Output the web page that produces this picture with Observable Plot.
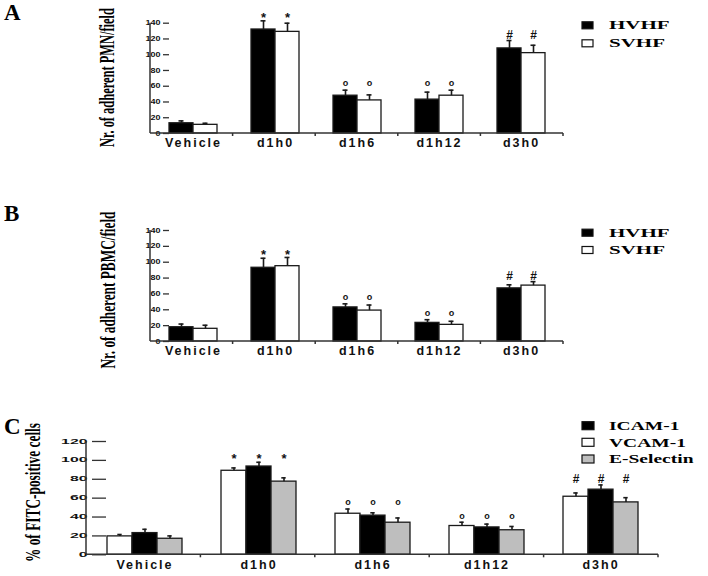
<!DOCTYPE html>
<html><head><meta charset="utf-8">
<script src="https://cdn.jsdelivr.net/npm/d3@7"></script>
<script src="https://cdn.jsdelivr.net/npm/@observablehq/plot@0.6"></script>
<style>
body{margin:0;background:#fff;}
#wrap{position:relative;width:708px;height:576px;overflow:hidden;background:#fff;}
#wrap > svg{position:absolute;left:0;}
g[aria-label="fx-axis tick label"] text{letter-spacing:2px;}
g[aria-label="y-axis tick"] path{stroke:#333;stroke-width:1.3;}
</style></head><body><div id="wrap"></div>
<script>
// ---------- data ----------
const categories = ["Vehicle", "d1h0", "d1h6", "d1h12", "d3h0"];
const signif = ["", "*", "o", "o", "#"];

// Panel A: adherent PMN per field
const seriesAB = ["HVHF", "SVHF"];
const pmnHVHF    = [13, 132, 48, 43, 108];
const pmnHVHFErr = [3, 11, 7, 9.5, 10];
const pmnSVHF    = [11, 129, 42, 48, 102];
const pmnSVHFErr = [2, 11, 7, 7, 10];

// Panel B: adherent PBMC per field
const pbmcHVHF    = [18, 93, 43, 23.5, 67];
const pbmcHVHFErr = [4, 12, 4.5, 4, 4.5];
const pbmcSVHF    = [16, 95, 39, 21, 70.5];
const pbmcSVHFErr = [4.5, 11, 7, 4.5, 5];

// Panel C: % FITC-positive cells (bar order: white, black, grey)
const seriesC = ["VCAM-1", "ICAM-1", "E-Selectin"];
const vcam    = [19.5, 89, 43.5, 30.5, 61.5];
const vcamErr = [2, 3, 5, 4, 4];
const icam    = [23, 93.5, 41.5, 29, 69];
const icamErr = [4, 4.5, 3, 3.5, 5];
const esel    = [17, 77.5, 34, 26, 55.5];
const eselErr = [3, 4, 5, 4, 5];

const legendAB = ["HVHF", "SVHF"];
const legendC = ["ICAM-1", "VCAM-1", "E-Selectin"];
const ticksAB = [0, 20, 40, 60, 80, 100, 120, 140];
const ticksC = [0, 20, 40, 60, 80, 100, 120];

// ---------- styles ----------
const SANS = "'Liberation Sans', Arial, Helvetica, sans-serif";
const SERIF = "'Liberation Serif', 'Times New Roman', serif";
const colorOf = {"HVHF": "#000000", "SVHF": "#ffffff", "ICAM-1": "#000000", "VCAM-1": "#ffffff", "E-Selectin": "#bebebe"};

const wrap = document.getElementById("wrap");

function buildRows(series, values, errs) {
  const rows = [];
  categories.forEach((cat, i) => {
    series.forEach((s, j) => {
      rows.push({cat, series: s, value: values[j][i], top: values[j][i] + errs[j][i], sig: signif[i]});
    });
  });
  return rows;
}
function buildAnn(rows) {
  const out = [];
  for (const [cat, rs] of d3.group(rows, d => d.cat)) {
    const ymax = d3.max(rs, d => d.top);
    for (const r of rs) if (r.sig) out.push({cat, series: r.series, y: ymax, sig: r.sig});
  }
  return out;
}

function makePanel(cfg) {
  const rows = buildRows(cfg.series, cfg.values, cfg.errs);
  const ann = buildAnn(rows);
  const symbol = (s, fontSize, dy) => Plot.text(ann.filter(d => d.sig === s), {
    fx: "cat", x: "series", y: "y", text: "sig", fontSize, fontWeight: "bold", fontFamily: SANS, dy, fill: "#111"
  });
  const plot = Plot.plot({
    width: 708, height: cfg.height,
    marginTop: cfg.marginTop, marginBottom: cfg.marginBottom,
    marginLeft: cfg.marginLeft, marginRight: cfg.marginRight,
    style: {background: "transparent", fontFamily: SANS, color: "#111"},
    fx: {domain: categories, paddingInner: cfg.pad, paddingOuter: cfg.pad / 2, label: null},
    x: {domain: cfg.series, padding: 0, axis: null},
    y: {domain: [0, cfg.yMax], label: null},
    color: {domain: cfg.series, range: cfg.series.map(s => colorOf[s])},
    marks: [
      Plot.barY(rows, {fx: "cat", x: "series", y: "value", fill: "series", stroke: "#1a1a1a", strokeWidth: 1.3}),
      Plot.ruleX(rows, {fx: "cat", x: "series", y1: "value", y2: "top", stroke: "#1a1a1a", strokeWidth: 1.6}),
      Plot.tickY(rows, {fx: "cat", x: "series", y: "top", stroke: "#1a1a1a", strokeWidth: 1.6,
        insetLeft: cfg.capInset, insetRight: cfg.capInset}),
      symbol("*", 13, -3),
      symbol("o", 9, -6.6),
      symbol("#", 12, -5.6),
      Plot.axisY({ticks: cfg.ticks, tickSize: cfg.tickSize, tickPadding: cfg.tickPadding,
        fontSize: 6.5, fontWeight: "bold", label: null}),
      Plot.axisFx({anchor: "bottom", tickSize: 0, tickPadding: 5, fontSize: 12.5, fontWeight: "bold", label: null})
    ]
  });
  plot.style.top = cfg.top + "px";
  wrap.appendChild(plot);

  // axis lines and separator ticks, positioned through the plot's own scales
  const svg = d3.select(plot);
  const sy = plot.scale("y"), sfx = plot.scale("fx");
  const [x0, x1] = sfx.range;
  const y0 = sy.apply(0), yTop = sy.apply(cfg.yMax);
  const g = svg.append("g").attr("stroke", "#333").attr("stroke-width", 1.5);
  g.append("line").attr("x1", x0).attr("x2", x1).attr("y1", y0).attr("y2", y0);
  g.append("line").attr("x1", x0).attr("x2", x0).attr("y1", y0).attr("y2", yTop);
  const step = (x1 - x0) / categories.length;
  d3.range(1, categories.length + 1).forEach(i => {
    g.append("line").attr("x1", x0 + i * step).attr("x2", x0 + i * step).attr("y1", y0).attr("y2", y0 + 3);
  });
  // horizontally stretched tick labels as in the reference
  svg.selectAll('g[aria-label="y-axis tick label"] text').each(function () {
    const t = this.textContent;
    this.setAttribute("textLength", t.length * cfg.digitW);
    this.setAttribute("lengthAdjust", "spacingAndGlyphs");
  });
}

makePanel({top: 0, height: 155, marginTop: 22.7, marginBottom: 22, marginLeft: 150, marginRight: 145,
  series: seriesAB, values: [pmnHVHF, pmnSVHF], errs: [pmnHVHFErr, pmnSVHFErr],
  yMax: 140, ticks: ticksAB, pad: 0.42, capInset: 9.5, tickSize: 6, tickPadding: 3, digitW: 5});
makePanel({top: 207, height: 156, marginTop: 23, marginBottom: 22, marginLeft: 150, marginRight: 145,
  series: seriesAB, values: [pbmcHVHF, pbmcSVHF], errs: [pbmcHVHFErr, pbmcSVHFErr],
  yMax: 140, ticks: ticksAB, pad: 0.42, capInset: 9.5, tickSize: 6, tickPadding: 3, digitW: 5});
makePanel({top: 418, height: 158, marginTop: 23, marginBottom: 21.7, marginLeft: 86, marginRight: 50,
  series: seriesC, values: [vcam, icam, esel], errs: [vcamErr, icamErr, eselErr],
  yMax: 120, ticks: ticksC, pad: 0.327, capInset: 10.3, tickSize: 14, tickPadding: 5, digitW: 8.8});

// ---------- panel letters, y-axis titles, legends ----------
const deco = d3.select(wrap).append("svg").attr("width", 708).attr("height", 576)
  .style("top", "0px").style("pointer-events", "none");

[["A", 20], ["B", 221], ["C", 434]].forEach(([t, y]) => {
  deco.append("text").attr("x", 4).attr("y", y).attr("font-family", SERIF).attr("font-weight", "bold")
    .attr("font-size", 23).attr("fill", "#000").text(t);
});

// condensed rotated axis titles: scale the glyph run along the text direction
[["Nr. of adherent PMN/field", 114, 77.5, 139],
 ["Nr. of adherent PBMC/field", 115, 290, 157],
 ["% of FITC-positive cells", 39.5, 492.5, 139]].forEach(([t, x, y, len]) => {
  const el = deco.append("text").attr("text-anchor", "middle")
    .attr("font-family", SERIF).attr("font-weight", "bold").attr("font-size", 20).attr("fill", "#000").text(t);
  const w = el.node().getComputedTextLength();
  el.attr("transform", `translate(${x},${y}) rotate(-90) scale(${len / w},1)`);
});

function legend(items, rowYs, sw, sh, fontSize, stretch) {
  items.forEach((name, i) => {
    const cy = rowYs[i];
    deco.append("rect").attr("x", 582).attr("y", cy - sh / 2).attr("width", sw).attr("height", sh)
      .attr("fill", colorOf[name]).attr("stroke", "#111").attr("stroke-width", 1.2);
    const t = deco.append("text").attr("x", 609).attr("y", cy + fontSize * 0.33)
      .attr("font-family", SERIF).attr("font-weight", "bold").attr("font-size", fontSize).attr("fill", "#000").text(name);
    const w = t.node().getComputedTextLength();
    t.attr("textLength", w * stretch).attr("lengthAdjust", "spacingAndGlyphs");
  });
}
legend(legendAB, [25.3, 43.3], 11, 7, 12, 1.75);
legend(legendAB, [232.7, 250], 11, 7, 12, 1.75);
legend(legendC, [425.7, 442.3, 459], 12, 8, 13, 1.5);
</script></body></html>
